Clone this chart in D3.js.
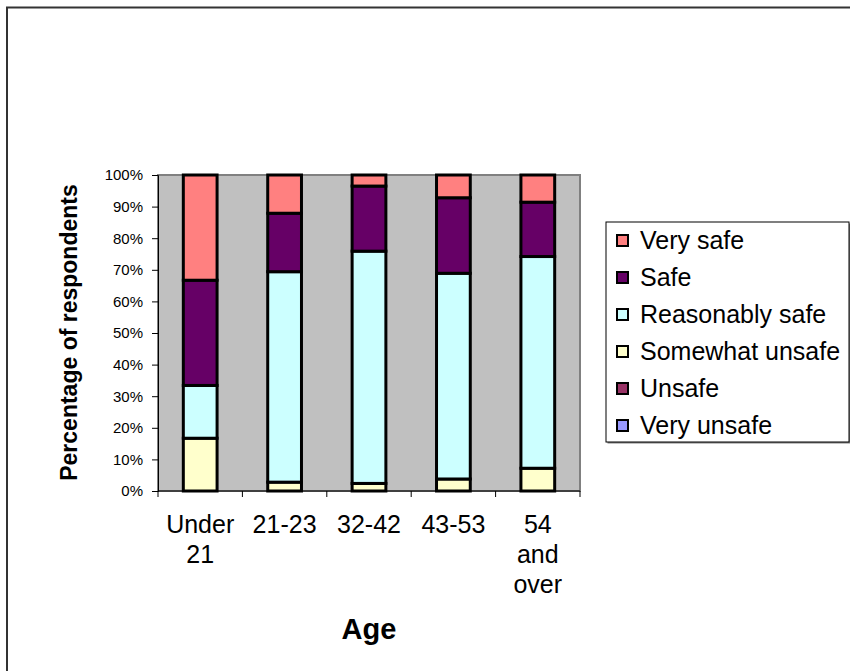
<!DOCTYPE html>
<html>
<head>
<meta charset="utf-8">
<script src="https://cdn.jsdelivr.net/npm/d3@7"></script>
<style>
  html, body { margin: 0; padding: 0; background: #ffffff; }
  svg { display: block; font-family: "Liberation Sans", Arial, sans-serif; }
</style>
</head>
<body>
<svg id="chart" width="850" height="671"></svg>
<script>
// Age groups along the x axis (multi-line labels split on "\n")
const categories = ["Under\n21", "21-23", "32-42", "43-53", "54\nand\nover"];

// Stacked series, bottom to top, in percent of respondents
const seriesNames = ["Very unsafe", "Unsafe", "Somewhat unsafe", "Reasonably safe", "Safe", "Very safe"];
const veryUnsafe      = [0, 0, 0, 0, 0];
const unsafe          = [0, 0, 0, 0, 0];
const somewhatUnsafe  = [16.7, 2.8, 2.4, 3.8, 7.2];
const reasonablySafe  = [16.7, 66.6, 73.5, 65.1, 67.0];
const safe            = [33.3, 18.5, 20.6, 23.9, 17.2];
const verySafe        = [33.3, 12.1, 3.5, 7.2, 8.6];
const seriesValues = [veryUnsafe, unsafe, somewhatUnsafe, reasonablySafe, safe, verySafe];

const seriesColors = ["#9999FF", "#993366", "#FFFFCC", "#CCFFFF", "#660066", "#FF8080"];

const yTicks = [0, 10, 20, 30, 40, 50, 60, 70, 80, 90, 100];
const yTitle = "Percentage of respondents";
const xTitle = "Age";

const svg = d3.select("#chart");

// Outer chart frame (runs past the right and bottom edges)
svg.append("rect")
  .attr("x", 7).attr("y", 7.5)
  .attr("width", 900).attr("height", 700)
  .attr("fill", "#ffffff")
  .attr("stroke", "#333333").attr("stroke-width", 2);

const plot = { left: 158, right: 580, top: 175, bottom: 491 };

const x = d3.scaleBand()
  .domain(categories)
  .range([plot.left, plot.right])
  .paddingInner(0).paddingOuter(0);

const y = d3.scaleLinear().domain([0, 100]).range([plot.bottom, plot.top]);

// Plot area background and border
svg.append("rect")
  .attr("x", plot.left).attr("y", plot.top)
  .attr("width", plot.right - plot.left).attr("height", plot.bottom - plot.top)
  .attr("fill", "#C0C0C0")
  .attr("stroke", "#808080").attr("stroke-width", 2);

// Stack the series
const rows = categories.map((c, i) => {
  const r = { cat: c };
  seriesNames.forEach((s, k) => { r[s] = seriesValues[k][i]; });
  return r;
});
const stacked = d3.stack().keys(seriesNames)(rows);

const barWidth = x.bandwidth() / 2.5;

svg.append("g").selectAll("g")
  .data(stacked)
  .join("g")
  .attr("fill", (d, i) => seriesColors[i])
  .selectAll("rect")
  .data(d => d.filter(p => p[1] - p[0] > 0))
  .join("rect")
  .attr("x", d => x(d.data.cat) + (x.bandwidth() - barWidth) / 2)
  .attr("width", barWidth)
  .attr("y", d => y(d[1]))
  .attr("height", d => y(d[0]) - y(d[1]))
  .attr("stroke", "#000000")
  .attr("stroke-width", 3);

// Y axis
const yAxis = d3.axisLeft(y)
  .tickValues(yTicks)
  .tickFormat(d => d + "%")
  .tickSize(6)
  .tickPadding(9);

const yg = svg.append("g")
  .attr("transform", `translate(${plot.left},0)`)
  .call(yAxis);
yg.select(".domain").attr("stroke", "#000").attr("stroke-width", 1);
yg.selectAll(".tick line").attr("stroke", "#000");
yg.selectAll(".tick text")
  .attr("font-size", 15)
  .attr("font-family", "Liberation Sans, Arial, sans-serif")
  .attr("fill", "#000");

// X axis: ticks sit on the category boundaries
const boundaries = categories.map(c => x(c)).concat([plot.right]);
const xg = svg.append("g");
xg.append("line")
  .attr("x1", plot.left).attr("x2", plot.right)
  .attr("y1", plot.bottom).attr("y2", plot.bottom)
  .attr("stroke", "#000").attr("stroke-width", 1);
xg.selectAll("line.tick")
  .data(boundaries)
  .join("line")
  .attr("class", "tick")
  .attr("x1", d => d).attr("x2", d => d)
  .attr("y1", plot.bottom).attr("y2", plot.bottom + 6)
  .attr("stroke", "#000").attr("stroke-width", 1);

const catLabels = xg.selectAll("text.cat")
  .data(categories)
  .join("text")
  .attr("class", "cat")
  .attr("text-anchor", "middle")
  .attr("font-size", 25)
  .attr("fill", "#000");
catLabels.each(function (d) {
  const t = d3.select(this);
  d.split("\n").forEach((line, i) => {
    t.append("tspan")
      .attr("x", x(d) + x.bandwidth() / 2)
      .attr("y", 533 + i * 30)
      .text(line);
  });
});

// Axis titles
svg.append("text")
  .attr("x", (plot.left + plot.right) / 2)
  .attr("y", 639)
  .attr("text-anchor", "middle")
  .attr("font-size", 29)
  .attr("font-weight", "bold")
  .text(xTitle);

svg.append("text")
  .attr("transform", `translate(77,${(183 + 482) / 2}) rotate(-90)`)
  .attr("text-anchor", "middle")
  .attr("font-size", 23)
  .attr("font-weight", "bold")
  .text(yTitle);

// Legend, top entry is the top of the stack
const legend = { x: 606, y: 222, w: 243, h: 220 };
svg.append("rect")
  .attr("x", legend.x + 1.5).attr("y", legend.y + 1.5)
  .attr("width", legend.w).attr("height", legend.h)
  .attr("fill", "#808080");
svg.append("rect")
  .attr("x", legend.x).attr("y", legend.y)
  .attr("width", legend.w).attr("height", legend.h)
  .attr("fill", "#ffffff")
  .attr("stroke", "#000").attr("stroke-width", 1);

const legendItems = seriesNames.map((s, i) => ({ name: s, color: seriesColors[i] })).reverse();
const li = svg.append("g").selectAll("g")
  .data(legendItems)
  .join("g")
  .attr("transform", (d, i) => `translate(${legend.x},${241 + i * 37})`);
li.append("rect")
  .attr("x", 11).attr("y", -6)
  .attr("width", 11).attr("height", 11)
  .attr("fill", d => d.color)
  .attr("stroke", "#000").attr("stroke-width", 2);
li.append("text")
  .attr("x", 34).attr("y", 8)
  .attr("font-size", 25)
  .attr("fill", "#000")
  .text(d => d.name);
</script>
</body>
</html>
